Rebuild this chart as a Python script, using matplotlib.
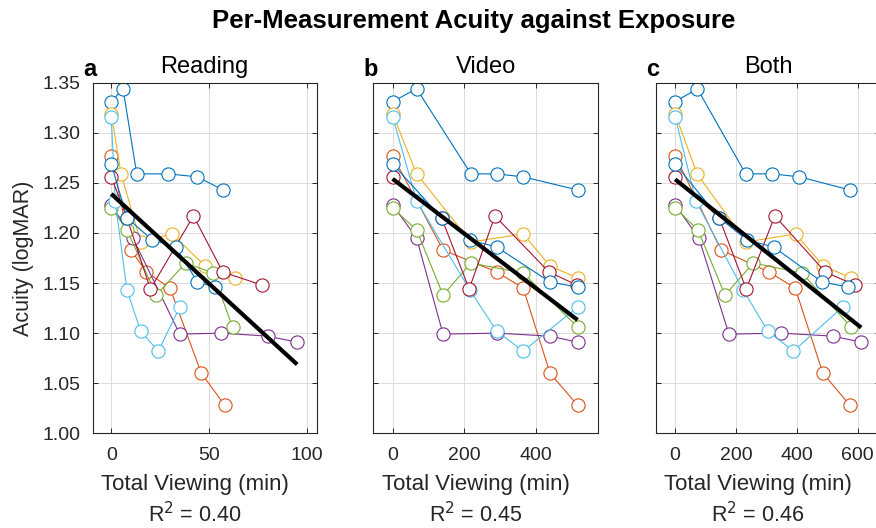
import numpy as np
import matplotlib
matplotlib.use("Agg")
import matplotlib.pyplot as plt

plt.rcParams['font.family'] = ['Liberation Sans', 'DejaVu Sans']

# MATLAB default colour order, 8 subjects (colour 8 wraps back to blue)
colors = ['#0072BD', '#D95319', '#EDB120', '#7E2F8E',
          '#77AC30', '#4DBEEE', '#A2142F', '#0072BD']

# acuity per measurement (logMAR), same for all three panels
acuity = [
    [1.331, 1.344, 1.259, 1.259, 1.256, 1.243],
    [1.277, 1.183, 1.161, 1.145, 1.060, 1.028],
    [1.319, 1.259, 1.191, 1.199, 1.167, 1.155],
    [1.228, 1.195, 1.099, 1.100, 1.097, 1.091],
    [1.225, 1.203, 1.138, 1.170, 1.160, 1.106],
    [1.316, 1.232, 1.143, 1.102, 1.082, 1.126],
    [1.256, 1.215, 1.144, 1.217, 1.161, 1.148],
    [1.269, 1.215, 1.193, 1.186, 1.151, 1.146],
]

# cumulative viewing time (min)
reading_min = [
    [0, 6, 13, 29, 44, 57],
    [0, 10, 18, 30, 46, 58],
    [0, 5, 15, 31, 48, 63],
    [0, 11, 35, 56, 80, 95],
    [0, 8, 23, 38, 52, 62],
    [0, 2, 8, 15, 24, 35],
    [0, 8, 20, 42, 57, 77],
    [0, 8, 21, 33, 44, 53],
]
video_min = [
    [0, 67, 219, 291, 365, 517],
    [0, 141, 291, 365, 440, 517],
    [0, 67, 219, 365, 440, 517],
    [0, 67, 141, 291, 440, 517],
    [0, 67, 141, 219, 365, 517],
    [0, 67, 216, 291, 365, 517],
    [0, 137, 214, 286, 437, 515],
    [0, 137, 216, 291, 440, 517],
]
both_min = [
    [0, 73, 232, 320, 409, 574],
    [0, 151, 309, 395, 486, 575],
    [0, 72, 234, 396, 488, 580],
    [0, 78, 177, 348, 519, 612],
    [0, 75, 164, 257, 417, 579],
    [0, 68, 224, 305, 389, 551],
    [0, 145, 234, 328, 494, 592],
    [0, 145, 237, 324, 484, 570],
]

titles = ['Reading', 'Video', 'Both']
letters = ['a', 'b', 'c']
r2_labels = ['0.40', '0.45', '0.46']
fit_intercept = [1.239, 1.254, 1.2535]
fit_slope = [-0.001792, -0.0002725, -0.0002418]
xlims = [(-9.5, 105), (-54, 575), (-63, 674)]
xticks = [[0, 50, 100], [0, 200, 400], [0, 200, 400, 600]]
yticks = np.arange(1.0, 1.351, 0.05)

W, H = 876, 528
fig = plt.figure(figsize=(W / 100, H / 100), dpi=100)

lefts = [92.7, 373.3, 656.0]
widths = [224, 225, 224]
bottom_px, top_px = 433.3, 82.7
dark = '#262626'

for i, xs in enumerate([reading_min, video_min, both_min]):
    ax = fig.add_axes([lefts[i] / W, 1 - bottom_px / H,
                       widths[i] / W, (bottom_px - top_px) / H])
    for s in range(len(acuity)):
        ax.plot(xs[s], acuity[s], '-o', color=colors[s], lw=0.8,
                ms=9.5, mfc='white', mec=colors[s], mew=0.8)
    xmax = max(max(x) for x in xs)
    xl = np.array([0, xmax])
    ax.plot(xl, fit_intercept[i] + fit_slope[i] * xl, color='black', lw=3,
            solid_capstyle='butt', zorder=5)

    ax.set_xlim(*xlims[i])
    ax.set_ylim(1.0, 1.35)
    ax.set_xticks(xticks[i])
    ax.set_yticks(yticks)
    if i == 0:
        ax.set_yticklabels(['%.2f' % v for v in yticks])
        ax.set_ylabel('Acuity (logMAR)', fontsize=15.5, color=dark, labelpad=6)
    else:
        ax.set_yticklabels([])
    ax.grid(True, color='#dcdcdc', lw=0.7)
    ax.set_axisbelow(True)
    ax.tick_params(direction='in', top=True, right=True, length=3.5,
                   width=0.7, colors=dark, labelsize=14, pad=9)
    ax.tick_params(axis='x', pad=10)
    for sp in ax.spines.values():
        sp.set_color(dark)
        sp.set_linewidth(0.8)

    ax.set_title(titles[i], fontsize=17, pad=7)
    ax.text(-0.042, 1.019, letters[i], transform=ax.transAxes, fontsize=17,
            fontweight='bold', ha='left', va='baseline')
    cx = 0.5 - 10 / widths[i]
    ax.text(cx, -0.145, 'Total Viewing (min)', transform=ax.transAxes,
            fontsize=16, color=dark, ha='center', va='center')
    ax.text(cx, -0.233, 'R$^2$ = ' + r2_labels[i], transform=ax.transAxes,
            fontsize=15.5, color=dark, ha='center', va='center')

fig.text(474 / W, 1 - 28 / H, 'Per-Measurement Acuity against Exposure',
         fontsize=18.5, fontweight='bold', ha='center', va='baseline')

fig.savefig('out.png', dpi=100)
